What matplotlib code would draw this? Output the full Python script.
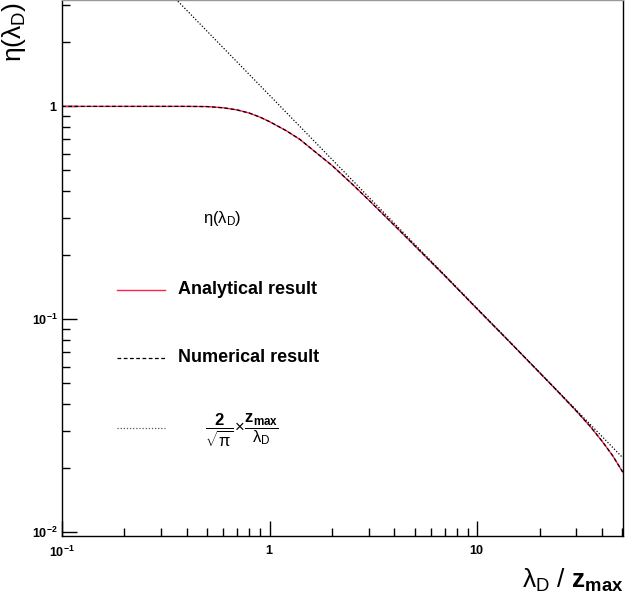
import matplotlib
matplotlib.use("Agg")
import matplotlib.pyplot as plt
import numpy as np
from matplotlib.lines import Line2D
from matplotlib.ticker import LogLocator, NullFormatter, FixedLocator, FixedFormatter

# ---- data ----
lam = [0.1, 0.15, 0.2, 0.3, 0.4, 0.5, 0.6, 0.7, 0.8, 0.9, 1.0, 1.2, 1.4, 1.7,
       2.0, 2.5, 3.0, 4.0, 5.0, 7.0, 10.0, 14.0, 20.0, 25.0, 30.0, 35.0,
       40.0, 45.0, 50.3]
eta_analytical = [1.0, 1.0, 1.0, 1.0, 1.0, 0.998, 0.985, 0.962, 0.93, 0.89,
                  0.848, 0.77, 0.70, 0.60, 0.528, 0.432, 0.364, 0.276, 0.222,
                  0.160, 0.112, 0.0803, 0.0562, 0.0449, 0.0372, 0.0315,
                  0.0268, 0.0229, 0.0192]
eta_numerical = [1.0, 1.0, 1.0, 1.0, 1.0, 0.998, 0.985, 0.962, 0.93, 0.89,
                 0.848, 0.77, 0.70, 0.60, 0.528, 0.432, 0.364, 0.276, 0.222,
                 0.160, 0.112, 0.0803, 0.0562, 0.0449, 0.0372, 0.0315,
                 0.0268, 0.0229, 0.0192]
asym_x = [0.3, 50.3]
asym_y = [3.76, 0.0224]

xtick_vals = [0.1, 1, 10]
xtick_labels = [r"$\mathbf{10^{-1}}$", r"$\mathbf{1}$", r"$\mathbf{10}$"]
ytick_vals = [0.01, 0.1, 1]
ytick_labels = [r"$\mathbf{10^{-2}}$", r"$\mathbf{10^{-1}}$", r"$\mathbf{1}$"]

plt.rcParams['font.family'] = ['Liberation Sans', 'DejaVu Sans']
plt.rcParams['mathtext.fontset'] = 'custom'
plt.rcParams['mathtext.rm'] = 'Liberation Sans'
plt.rcParams['mathtext.it'] = 'Liberation Sans'
plt.rcParams['mathtext.bf'] = 'Liberation Sans:bold'

fig = plt.figure(figsize=(6.25, 5.96), dpi=100)
ax = fig.add_axes([62/625, 60/596, (623-62)/625, 536/596])

red = '#ff2050'
ax.plot(lam, eta_analytical, color=red, lw=1.0, zorder=2)
ax.plot(lam, eta_numerical, color='black', lw=0.9, ls=(0, (3, 2)), zorder=3)
ax.plot(asym_x, asym_y, color='black', lw=0.9, ls=(0, (1, 1.5)), zorder=3)

ax.set_xscale('log')
ax.set_yscale('log')
ax.set_xlim(0.1, 50.5)
ax.set_ylim(0.0096, 3.16)

ax.xaxis.set_major_locator(FixedLocator(xtick_vals))
ax.xaxis.set_major_formatter(FixedFormatter(xtick_labels))
ax.yaxis.set_major_locator(FixedLocator(ytick_vals))
ax.yaxis.set_major_formatter(FixedFormatter(ytick_labels))
ax.xaxis.set_minor_locator(LogLocator(base=10, subs=np.arange(2, 10)))
ax.yaxis.set_minor_locator(LogLocator(base=10, subs=np.arange(2, 10)))
ax.xaxis.set_minor_formatter(NullFormatter())
ax.yaxis.set_minor_formatter(NullFormatter())
ax.tick_params(which='both', direction='in', top=False, right=False,
               labelsize=9, width=1.0)
ax.tick_params(which='major', length=11)
ax.tick_params(which='minor', length=5.5)
ax.tick_params(axis='x', pad=6)
ax.tick_params(axis='y', pad=3)
for s in ax.spines.values():
    s.set_linewidth(1.0)
ax.spines['top'].set_color('#999999')

# axis titles
fig.text(623/625, 1 - 580/596, r"$\lambda_{D}$ / $\mathbf{z_{max}}$",
         ha='right', va='center', fontsize=19)
fig.text(14/625, 1.0 - 2/596, r"$\eta(\lambda_{D})$", rotation=90,
         ha='center', va='top', fontsize=19)

# legend (drawn manually, no frame)
T = ax.transAxes
def fx(px):
    return (px - 62) / (623 - 62)
def fy(py):
    return (536 - py) / 536

ax.text(fx(222), fy(218), r"$\eta(\lambda_{D})$", transform=T,
        ha='center', va='center', fontsize=12)
ax.add_line(Line2D([fx(117), fx(165)], [fy(290), fy(290)], transform=T,
                   color=red, lw=1.0))
ax.text(fx(178), fy(290), "Analytical result", transform=T, ha='left',
        va='center', fontsize=13, fontweight='bold')
ax.add_line(Line2D([fx(117), fx(165)], [fy(358), fy(358)], transform=T,
                   color='black', lw=0.9, ls=(0, (3, 2))))
ax.text(fx(178), fy(358), "Numerical result", transform=T, ha='left',
        va='center', fontsize=13, fontweight='bold')
ax.add_line(Line2D([fx(117), fx(165)], [fy(428), fy(428)], transform=T,
                   color='#555555', lw=0.9, ls=(0, (1, 1.5))))
ax.text(fx(242), fy(430),
        r"$\dfrac{\mathbf{2}}{\sqrt{\pi}}\!\times\!\dfrac{\mathbf{z_{max}}}{\lambda_{D}}$",
        transform=T, ha='center', va='center', fontsize=12)

fig.savefig("out.png", dpi=100)
